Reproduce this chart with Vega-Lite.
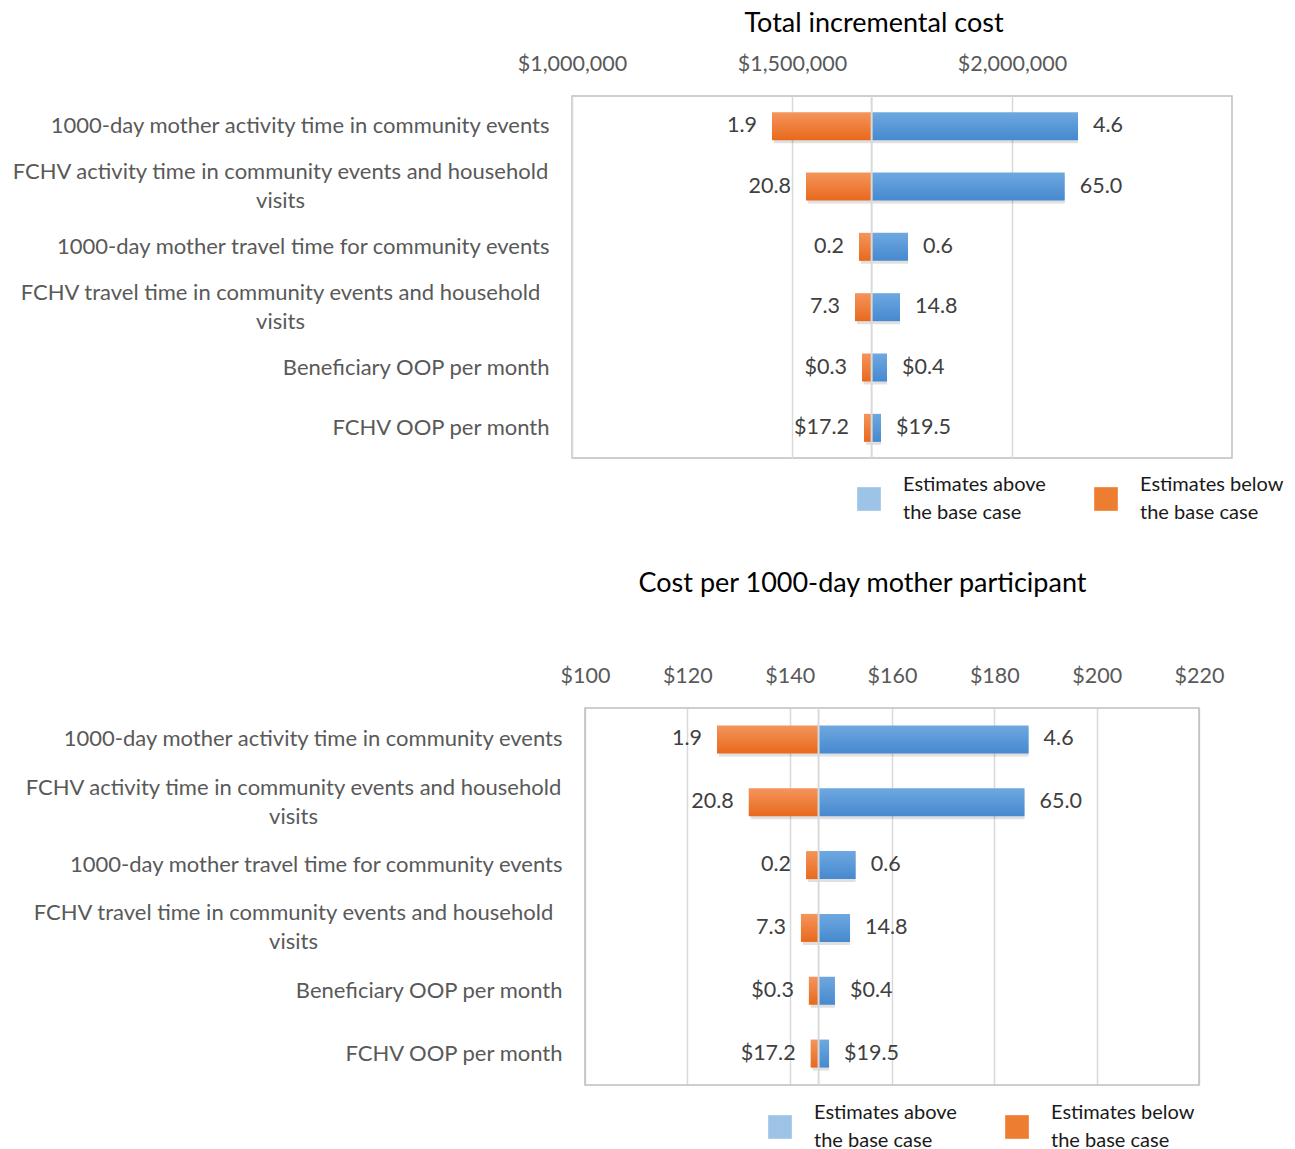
{
  "$schema": "https://vega.github.io/schema/vega-lite/v6.json",
  "padding": {"left": 10, "top": 9, "right": 5, "bottom": 20},
  "background": "white",
  "datasets": {
    "rows": [
      {"param": "1000-day mother activity time in community events", "lo1": 1454500, "hi1": 2150000, "base1": 1681000, "lo2": 125.8, "hi2": 186.7, "base2": 145.65, "lo_label": "1.9", "hi_label": "4.6"},
      {"param": "FCHV activity time in community events and household|visits", "lo1": 1531800, "hi1": 2119800, "base1": 1681000, "lo2": 132.0, "hi2": 185.9, "base2": 145.65, "lo_label": "20.8", "hi_label": "65.0"},
      {"param": "1000-day mother travel time for community events", "lo1": 1652300, "hi1": 1763600, "base1": 1681000, "lo2": 143.2, "hi2": 152.9, "base2": 145.65, "lo_label": "0.2", "hi_label": "0.6"},
      {"param": "FCHV travel time in community events and household|visits", "lo1": 1643200, "hi1": 1745500, "base1": 1681000, "lo2": 142.2, "hi2": 151.8, "base2": 145.65, "lo_label": "7.3", "hi_label": "14.8"},
      {"param": "Beneficiary OOP per month", "lo1": 1659100, "hi1": 1715900, "base1": 1681000, "lo2": 143.75, "hi2": 148.85, "base2": 145.65, "lo_label": "$0.3", "hi_label": "$0.4"},
      {"param": "FCHV OOP per month", "lo1": 1663600, "hi1": 1702300, "base1": 1681000, "lo2": 144.1, "hi2": 147.7, "base2": 145.65, "lo_label": "$17.2", "hi_label": "$19.5"}
    ]
  },
  "spacing": 46,
  "vconcat": [
    {
      "width": 660,
      "height": 362,
      "title": {"text": "Total incremental cost", "dx": -28, "offset": 15},
      "data": {"name": "rows"},
      "layer": [
        {
          "mark": {"type": "bar", "fill": "#000000", "opacity": 0.12, "xOffset": 2, "yOffset": 3},
          "encoding": {
            "y": {"field": "param", "type": "nominal", "sort": null, "title": null,
              "scale": {"paddingInner": 0.536, "paddingOuter": 0.268},
              "axis": {"domain": false, "ticks": false, "grid": false, "labelFontSize": 22, "labelColor": "#595959", "labelLimit": 1000, "labelLineHeight": 29,
                "labelExpr": "split(datum.value, '|')",
                "labelAlign": {"condition": {"test": "indexof(datum.value, '|') >= 0", "value": "center"}, "value": "right"},
                "labelOffset": {"condition": {"test": "indexof(datum.value, '|') >= 0", "value": -14.5}, "value": 0},
                "labelPadding": {"condition": {"test": "indexof(datum.value, '|') >= 0", "value": 292}, "value": 23}}},
            "x": {"field": "lo1", "type": "quantitative", "title": null,
              "scale": {"domain": [1000000, 2500000], "nice": false, "zero": false},
              "axis": {"orient": "top", "values": [1000000, 1500000, 2000000], "format": "$,.0f", "grid": true, "gridColor": "#D9D9D9", "gridWidth": 1.5, "domain": false, "ticks": false, "labelFontSize": 21.5, "labelColor": "#595959", "labelPadding": 21, "labelFlush": false, "labelOverlap": false}},
            "x2": {"field": "hi1"}
          }
        },
        {
          "mark": {"type": "bar", "fill": {"gradient": "linear", "x1": 0, "y1": 0, "x2": 0, "y2": 1, "stops": [{"offset": 0, "color": "#F4955C"}, {"offset": 1, "color": "#E8691C"}]}},
          "encoding": {
            "y": {"field": "param", "type": "nominal", "sort": null, "title": null},
            "x": {"field": "lo1", "type": "quantitative", "title": null},
            "x2": {"field": "base1"}
          }
        },
        {
          "mark": {"type": "bar", "fill": {"gradient": "linear", "x1": 0, "y1": 0, "x2": 0, "y2": 1, "stops": [{"offset": 0, "color": "#6EA8E0"}, {"offset": 1, "color": "#4689CF"}]}},
          "encoding": {
            "y": {"field": "param", "type": "nominal", "sort": null, "title": null},
            "x": {"field": "base1", "type": "quantitative", "title": null},
            "x2": {"field": "hi1"}
          }
        },
        {
          "data": {"values": [{"b": 1681000}]},
          "mark": {"type": "rule", "color": "#D9D9D9", "strokeWidth": 2},
          "encoding": {"x": {"field": "b", "type": "quantitative", "title": null}}
        },
        {
          "mark": {"type": "text", "align": "right", "baseline": "middle", "dx": -15, "fontSize": 21.5, "color": "#404040"},
          "encoding": {
            "y": {"field": "param", "type": "nominal", "sort": null, "title": null},
            "x": {"field": "lo1", "type": "quantitative", "title": null},
            "text": {"field": "lo_label"}
          }
        },
        {
          "mark": {"type": "text", "align": "left", "baseline": "middle", "dx": 15, "fontSize": 21.5, "color": "#404040"},
          "encoding": {
            "y": {"field": "param", "type": "nominal", "sort": null, "title": null},
            "x": {"field": "hi1", "type": "quantitative", "title": null},
            "text": {"field": "hi_label"}
          }
        },
        {
          "mark": {"type": "square", "opacity": 0},
          "encoding": {
            "y": {"field": "param", "type": "nominal", "sort": null, "title": null},
            "x": {"field": "base1", "type": "quantitative", "title": null},
            "color": {"datum": "above", "type": "nominal",
              "scale": {"domain": ["above", "below"], "range": ["#9DC3E6", "#ED7D31"]},
              "legend": {"title": null, "orient": "none", "legendX": 285, "legendY": 391, "direction": "horizontal", "columns": 2, "symbolType": "square", "symbolSize": 560, "symbolOpacity": 1, "symbolStrokeWidth": 0, "labelFontSize": 20, "labelColor": "#1A1A1A", "labelOffset": 22, "columnPadding": 48, "labelLimit": 1000, "padding": 0,
                "labelExpr": "datum.value == 'above' ? ['Estimates above', 'the base case'] : ['Estimates below', 'the base case']",
                "encode": {"labels": {"update": {"lineHeight": {"value": 28}, "dy": {"value": -14}}}}}}
          }
        }
      ]
    },
    {
      "width": 627,
      "height": 377,
      "view": {"stroke": null},
      "title": {"text": "Cost per 1000-day mother participant", "dx": -23, "offset": 67},
      "data": {"name": "rows"},
      "layer": [
        {
          "mark": {"type": "bar", "fill": "#000000", "opacity": 0.12, "xOffset": 2, "yOffset": 3},
          "encoding": {
            "y": {"field": "param", "type": "nominal", "sort": null, "title": null,
              "scale": {"paddingInner": 0.554, "paddingOuter": 0.277},
              "axis": {"domain": false, "ticks": false, "grid": false, "labelFontSize": 22, "labelColor": "#595959", "labelLimit": 1000, "labelLineHeight": 29,
                "labelExpr": "split(datum.value, '|')",
                "labelAlign": {"condition": {"test": "indexof(datum.value, '|') >= 0", "value": "center"}, "value": "right"},
                "labelOffset": {"condition": {"test": "indexof(datum.value, '|') >= 0", "value": -14.5}, "value": 0},
                "labelPadding": {"condition": {"test": "indexof(datum.value, '|') >= 0", "value": 279}, "value": 10}}},
            "x": {"field": "lo2", "type": "quantitative", "title": null,
              "scale": {"domain": [97.46, 220], "nice": false, "zero": false},
              "axis": {"orient": "top", "values": [100, 120, 140, 160, 180, 200, 220], "format": "$.0f", "grid": true, "gridColor": "#D9D9D9", "gridWidth": 1.5, "domain": false, "ticks": false, "labelFontSize": 21.5, "labelColor": "#595959", "labelPadding": 21, "labelFlush": false, "labelOverlap": false}},
            "x2": {"field": "hi2"}
          }
        },
        {
          "data": {"values": [{"a": 100, "b": 220}]},
          "mark": {"type": "rect", "fill": null, "filled": false, "stroke": "#BFBFBF", "strokeWidth": 1.5},
          "encoding": {
            "x": {"field": "a", "type": "quantitative", "title": null},
            "x2": {"field": "b"}
          }
        },
        {
          "mark": {"type": "bar", "fill": {"gradient": "linear", "x1": 0, "y1": 0, "x2": 0, "y2": 1, "stops": [{"offset": 0, "color": "#F4955C"}, {"offset": 1, "color": "#E8691C"}]}},
          "encoding": {
            "y": {"field": "param", "type": "nominal", "sort": null, "title": null},
            "x": {"field": "lo2", "type": "quantitative", "title": null},
            "x2": {"field": "base2"}
          }
        },
        {
          "mark": {"type": "bar", "fill": {"gradient": "linear", "x1": 0, "y1": 0, "x2": 0, "y2": 1, "stops": [{"offset": 0, "color": "#6EA8E0"}, {"offset": 1, "color": "#4689CF"}]}},
          "encoding": {
            "y": {"field": "param", "type": "nominal", "sort": null, "title": null},
            "x": {"field": "base2", "type": "quantitative", "title": null},
            "x2": {"field": "hi2"}
          }
        },
        {
          "data": {"values": [{"b": 145.65}]},
          "mark": {"type": "rule", "color": "#D9D9D9", "strokeWidth": 2},
          "encoding": {"x": {"field": "b", "type": "quantitative", "title": null}}
        },
        {
          "mark": {"type": "text", "align": "right", "baseline": "middle", "dx": -15, "fontSize": 21.5, "color": "#404040"},
          "encoding": {
            "y": {"field": "param", "type": "nominal", "sort": null, "title": null},
            "x": {"field": "lo2", "type": "quantitative", "title": null},
            "text": {"field": "lo_label"}
          }
        },
        {
          "mark": {"type": "text", "align": "left", "baseline": "middle", "dx": 15, "fontSize": 21.5, "color": "#404040"},
          "encoding": {
            "y": {"field": "param", "type": "nominal", "sort": null, "title": null},
            "x": {"field": "hi2", "type": "quantitative", "title": null},
            "text": {"field": "hi_label"}
          }
        },
        {
          "mark": {"type": "square", "opacity": 0},
          "encoding": {
            "y": {"field": "param", "type": "nominal", "sort": null, "title": null},
            "x": {"field": "base2", "type": "quantitative", "title": null},
            "color": {"datum": "above", "type": "nominal",
              "scale": {"domain": ["above", "below"], "range": ["#9DC3E6", "#ED7D31"]},
              "legend": {"title": null, "orient": "none", "legendX": 196, "legendY": 407, "direction": "horizontal", "columns": 2, "symbolType": "square", "symbolSize": 560, "symbolOpacity": 1, "symbolStrokeWidth": 0, "labelFontSize": 20, "labelColor": "#1A1A1A", "labelOffset": 22, "columnPadding": 48, "labelLimit": 1000, "padding": 0,
                "labelExpr": "datum.value == 'above' ? ['Estimates above', 'the base case'] : ['Estimates below', 'the base case']",
                "encode": {"labels": {"update": {"lineHeight": {"value": 28}, "dy": {"value": -14}}}}}}
          }
        }
      ]
    }
  ],
  "resolve": {"scale": {"color": "independent"}},
  "config": {
    "font": "Lato",
    "view": {"stroke": "#BFBFBF", "strokeWidth": 1.5},
    "title": {"fontSize": 27, "fontWeight": "normal", "color": "#000000", "anchor": "middle", "font": "Lato"},
    "axis": {"labelFont": "Lato"},
    "legend": {"labelFont": "Lato"},
    "text": {"font": "Lato"}
  }
}
